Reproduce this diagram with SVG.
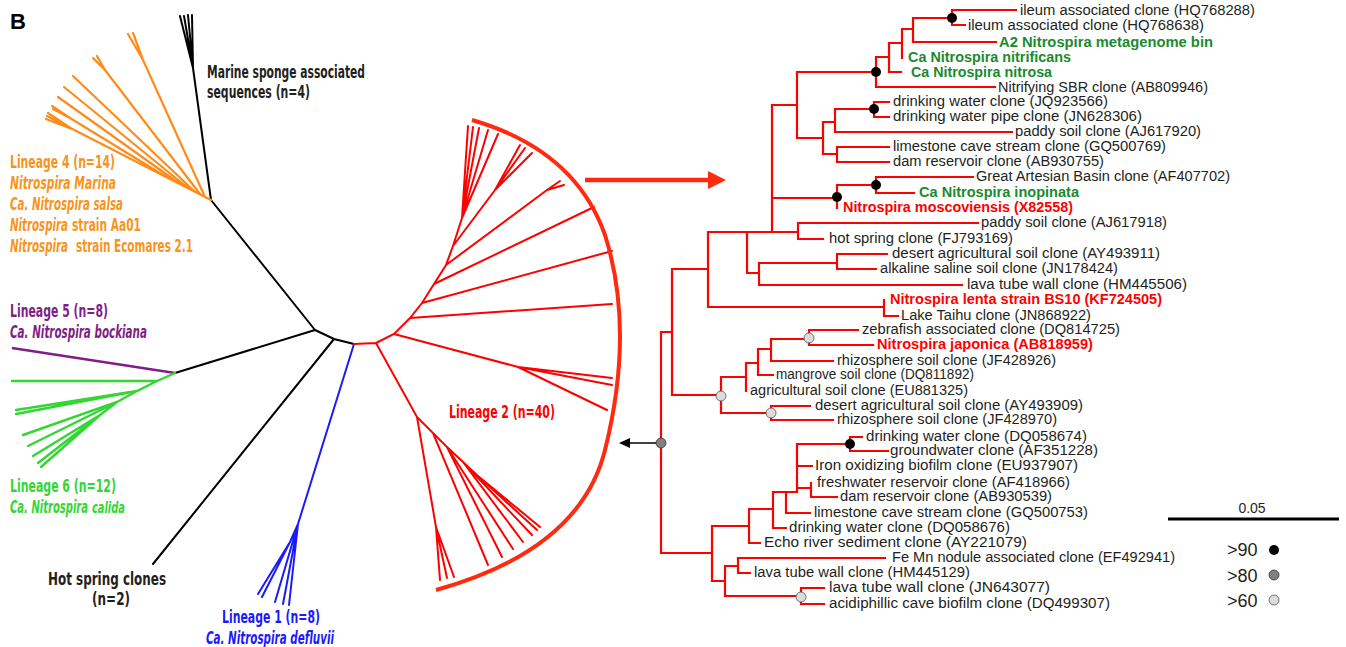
<svg xmlns="http://www.w3.org/2000/svg" width="1346" height="647" viewBox="0 0 1346 647">
<defs>
<style>
.t{font-family:"Liberation Sans",Arial,sans-serif;font-size:14px;fill:#231f20}
.g{fill:#1b8a2f;font-weight:bold}
.r{fill:#ff0000;font-weight:bold}
.L{font-family:"Liberation Sans Narrow","DejaVu Sans Condensed","Liberation Sans",sans-serif;font-size:17px;font-weight:bold}
.i{font-style:italic}
.br{stroke:#ff0000;stroke-width:2.2;fill:none;stroke-linecap:square}
.lk{stroke:#000;stroke-width:2;fill:none;stroke-linecap:round}
.lo{stroke:#ff8c1a;stroke-width:2.2;fill:none;stroke-linecap:round}
.lg{stroke:#33d633;stroke-width:2.4;fill:none;stroke-linecap:round}
.lp{stroke:#7f1f86;stroke-width:2.4;fill:none}
.lb{stroke:#1a1aff;stroke-width:2;fill:none;stroke-linecap:round}
.lr{stroke:#ff0000;stroke-width:2;fill:none;stroke-linecap:round}
.d9{fill:#000}
.d8{fill:#808080;stroke:#333;stroke-width:0.8}
.d6{fill:#dcdcdc;stroke:#555;stroke-width:0.8}
</style>
</defs>
<rect width="1346" height="647" fill="#fff"/>

<g id="connectors">
<path class="lk" d="M315,330 L211,200 M211,200 L193,68 M193,68 L180,16 M193,68 L184,16 M193,68 L188,15 M193,68 L192,15 M315,330 L175,373 M315,330 L334,339 L354,344 M334,339 L153,564"/>
<path class="lo" d="M211,200 L47,116 M205,197 L143,60 L128,34 M143,60 L133,33 M200,194 L105,70 L93,58 M105,70 L97,56 M194,191 L73,76 M188,188 L64,87 M180,184 L58,97 M168,178 L70,118 L52,106 M70,118 L53,109 M72,129 L46,119 M72,129 L48,113"/>
<path class="lp" d="M175,373 L12,348"/>
<path class="lg" d="M175,373 L157,381 L12,381 M157,381 L137,391 L16,410 M137,391 L16,414 M137,391 L117,402 L23,435 M117,402 L28,446 M117,402 L100,415 L33,456 M100,415 L38,463 M100,415 L41,467"/>
<path class="lb" d="M354,344 L298,524 M298,524 L290,542 L258,594 M290,542 L262,597 M298,524 L275,602 M298,524 L283,604 M298,524 L289,605"/>
<path class="lr" d="M354,344 L376,343 M376,343 L394,334 L410,318 L422,303 L434,284 L446,265 L453,246 L462,218 M394,334 L518,367 L612,378 M518,367 L612,385 M518,367 L607,410 M410,318 L612,304 M422,303 L612,251 M434,284 L594,207 M446,265 L547,190 L560,181 M547,190 L564,185 M453,246 L495,190 L520,145 M495,190 L525,148 M495,190 L532,153 M462,218 L468,126 M462,218 L473,127 M462,218 L479,128 M462,218 L488,130 M462,218 L498,134 M376,343 L417,417 L436,527 L440,580 M436,527 L447,578 M436,527 L454,577 M417,417 L433,433 L488,565 M433,433 L447,447 L502,557 M447,447 L513,549 M447,447 L463,462 L523,542 M463,462 L532,535 M463,462 L478,476 L537,530 M478,476 L540,527"/>
<path d="M472,120 Q575,150 605,235 Q635,330 605,450 Q580,550 436,590" fill="none" stroke="#ff2a10" stroke-width="4"/>
<path d="M585,180 H712" stroke="#ff2a10" stroke-width="4.5" fill="none"/>
<polygon points="708,171 726,180 708,189" fill="#ff2a10"/>
<path d="M661,443 H628" stroke="#000" stroke-width="1.6" fill="none"/>
<polygon points="619,443 630,438 630,448" fill="#000"/>
<path class="br" d="M661,332 V553 M661,332 H672 M672,269 V395 M672,269 H708 M708,232 V307 M708,232 H798 M747,232 V273 H759 M759,263 V285 M759,263 H837 M837,254 V269 M837,254 H887 M837,269 H876 M759,285 H962 M772,105 V232 M772,105 H797 M797,72 V138 M797,72 H876 M876,57 V87 M876,57 H889 M876,87 H995 M889,43 V72 M889,43 H902 M889,72 H901 M902,29 V58 M902,29 H913 M913,18 V42 M913,18 H952 M913,42 H996 M952,10 V25 M952,10 H1016 M952,25 H965 M797,138 H823 M823,122 V154 M823,122 H835 M835,109 V132 M835,109 H874 M874,102 V117 M874,102 H889 M874,117 H889 M835,132 H1012 M823,154 H837 M837,147 V162 M837,147 H889 M837,162 H889 M772,198 H837 M837,185 V208 M837,185 H876 M876,177 V193 M876,177 H973 M876,193 H914 M798,223 V239 M798,223 H978 M798,239 H823 M708,307 H884 M884,300 V316 M884,316 H898 M672,395 H721 M721,377 V413 M721,377 H746 M746,363 V391 M746,363 H758 M758,349 V375 M758,349 H771 M771,339 V361 M771,339 H809 M809,330 V345 M809,330 H858 M809,345 H873 M771,361 H833 M758,375 H773 M721,413 H771 M771,406 V420 M771,406 H810 M771,420 H833 M661,553 H712 M712,526 V581 M712,526 H749 M749,509 V543 M749,509 H773 M773,492 V528 M773,492 H797 M786,492 V513 M786,513 H810 M773,528 H786 M797,444 V492 M797,444 H850 M850,437 V451 M850,437 H862 M850,451 H888 M797,466 H812 M797,488 H811 M811,483 V497 M811,497 H837 M749,543 H760 M712,581 H725 M725,566 V596 M725,566 H738 M738,558 V573 M738,558 H885 M738,573 H750 M725,596 H801 M801,588 V604 M801,588 H824 M801,604 H824"/>
<circle class="d9" cx="952" cy="18" r="5"/>
<circle class="d9" cx="876" cy="72" r="5"/>
<circle class="d9" cx="874" cy="109" r="5"/>
<circle class="d9" cx="876" cy="185" r="5"/>
<circle class="d9" cx="837" cy="197" r="5"/>
<circle class="d9" cx="850" cy="444" r="5"/>
<circle class="d8" cx="661" cy="443" r="5"/>
<circle class="d6" cx="721" cy="396" r="5"/>
<circle class="d6" cx="809" cy="338" r="5"/>
<circle class="d6" cx="771" cy="413" r="5"/>
<circle class="d6" cx="801" cy="597" r="5"/>
</g>

<g id="panel-label"><text x="10" y="29" font-family="Liberation Sans,Arial,sans-serif" font-size="22" font-weight="bold" fill="#000">B</text></g>

<g id="sponge" class="L" fill="#231f20">
<text transform="translate(207,78) scale(0.72,1)" textLength="219.4" lengthAdjust="spacingAndGlyphs">Marine sponge associated</text>
<text transform="translate(207,98) scale(0.72,1)" textLength="143.1" lengthAdjust="spacingAndGlyphs">sequences (n=4)</text>
</g>
<g id="lineage4" class="L" fill="#f7941d">
<text transform="translate(10,168) scale(0.72,1)" textLength="145.8" lengthAdjust="spacingAndGlyphs">Lineage 4 (n=14)</text>
<text transform="translate(10,189) scale(0.72,1)" class="i" textLength="147.2" lengthAdjust="spacingAndGlyphs">Nitrospira Marina</text>
<text transform="translate(10,210) scale(0.72,1)" class="i" textLength="156.9" lengthAdjust="spacingAndGlyphs">Ca. Nitrospira salsa</text>
<text transform="translate(10,231) scale(0.72,1)" class="i" textLength="80.6" lengthAdjust="spacingAndGlyphs">Nitrospira</text>
<text transform="translate(72,231) scale(0.72,1)" textLength="95.8" lengthAdjust="spacingAndGlyphs">strain Aa01</text>
<text transform="translate(10,252) scale(0.72,1)" class="i" textLength="80.6" lengthAdjust="spacingAndGlyphs">Nitrospira</text>
<text transform="translate(76,252) scale(0.72,1)" textLength="162.5" lengthAdjust="spacingAndGlyphs">strain Ecomares 2.1</text>
</g>
<g id="lineage5" class="L" fill="#7f1f86">
<text transform="translate(10,317) scale(0.72,1)" textLength="136.1" lengthAdjust="spacingAndGlyphs">Lineage 5 (n=8)</text>
<text transform="translate(10,338) scale(0.72,1)" class="i" textLength="190.3" lengthAdjust="spacingAndGlyphs">Ca. Nitrospira bockiana</text>
</g>
<g id="lineage6" class="L" fill="#33d633">
<text transform="translate(10,492) scale(0.72,1)" textLength="147.2" lengthAdjust="spacingAndGlyphs">Lineage 6 (n=12)</text>
<text transform="translate(10,513) scale(0.66,1)" class="i" textLength="118.2" lengthAdjust="spacingAndGlyphs">Ca. Nitrospira</text>
<text transform="translate(92,513) scale(0.72,1)" class="i" font-size="15" textLength="45.8" lengthAdjust="spacingAndGlyphs">calida</text>
</g>
<g id="hotspring" class="L" fill="#231f20">
<text transform="translate(48,585) scale(0.72,1)" textLength="163.9" lengthAdjust="spacingAndGlyphs">Hot spring clones</text>
<text transform="translate(92,605) scale(0.72,1)" textLength="52.8" lengthAdjust="spacingAndGlyphs">(n=2)</text>
</g>
<g id="lineage1" class="L" fill="#1a1aff">
<text transform="translate(222,623) scale(0.72,1)" textLength="136.1" lengthAdjust="spacingAndGlyphs">Lineage 1 (n=8)</text>
<text transform="translate(206,644) scale(0.72,1)" class="i" textLength="177.8" lengthAdjust="spacingAndGlyphs">Ca. Nitrospira defluvii</text>
</g>
<g id="lineage2" class="L" fill="#ff0000">
<text transform="translate(449,418) scale(0.72,1)" textLength="147.2" lengthAdjust="spacingAndGlyphs">Lineage 2 (n=40)</text>
</g>

<g id="leaves" class="t">
<g id="n1"><text x="1020" y="15" textLength="235" lengthAdjust="spacingAndGlyphs">ileum associated clone (HQ768288)</text></g>
<g id="n2"><text x="968" y="30" textLength="236" lengthAdjust="spacingAndGlyphs">ileum associated clone (HQ768638)</text></g>
<g id="n3"><text class="g" x="999" y="47" textLength="214" lengthAdjust="spacingAndGlyphs">A2 Nitrospira metagenome bin</text></g>
<g id="n4"><text class="g" x="908" y="62" textLength="163" lengthAdjust="spacingAndGlyphs">Ca Nitrospira nitrificans</text></g>
<g id="n5"><text class="g" x="911" y="77" textLength="141" lengthAdjust="spacingAndGlyphs">Ca Nitrospira nitrosa</text></g>
<g id="n6"><text x="998" y="92" textLength="210" lengthAdjust="spacingAndGlyphs">Nitrifying SBR clone (AB809946)</text></g>
<g id="n7"><text x="893" y="106" textLength="215" lengthAdjust="spacingAndGlyphs">drinking water clone (JQ923566)</text></g>
<g id="n8"><text x="893" y="121" textLength="249" lengthAdjust="spacingAndGlyphs">drinking water pipe clone (JN628306)</text></g>
<g id="n9"><text x="1015" y="136" textLength="186" lengthAdjust="spacingAndGlyphs">paddy soil clone (AJ617920)</text></g>
<g id="n10"><text x="893" y="151" textLength="273" lengthAdjust="spacingAndGlyphs">limestone cave stream clone (GQ500769)</text></g>
<g id="n11"><text x="893" y="166" textLength="211" lengthAdjust="spacingAndGlyphs">dam reservoir clone (AB930755)</text></g>
<g id="n12"><text x="976" y="181" textLength="254" lengthAdjust="spacingAndGlyphs">Great Artesian Basin clone (AF407702)</text></g>
<g id="n13"><text class="g" x="919" y="197" textLength="160" lengthAdjust="spacingAndGlyphs">Ca Nitrospira inopinata</text></g>
<g id="n14"><text class="r" x="843" y="212" textLength="230" lengthAdjust="spacingAndGlyphs">Nitrospira moscoviensis (X82558)</text></g>
<g id="n15"><text x="981" y="227" textLength="186" lengthAdjust="spacingAndGlyphs">paddy soil clone (AJ617918)</text></g>
<g id="n16"><text x="829" y="243" textLength="184" lengthAdjust="spacingAndGlyphs">hot spring clone (FJ793169)</text></g>
<g id="n17"><text x="892" y="258" textLength="268" lengthAdjust="spacingAndGlyphs">desert agricultural soil clone (AY493911)</text></g>
<g id="n18"><text x="880" y="273" textLength="238" lengthAdjust="spacingAndGlyphs">alkaline saline soil clone (JN178424)</text></g>
<g id="n19"><text x="967" y="289" textLength="220" lengthAdjust="spacingAndGlyphs">lava tube wall clone (HM445506)</text></g>
<g id="n20"><text class="r" x="890" y="304" textLength="272" lengthAdjust="spacingAndGlyphs">Nitrospira lenta strain BS10 (KF724505)</text></g>
<g id="n21"><text x="901" y="320" textLength="190" lengthAdjust="spacingAndGlyphs">Lake Taihu clone (JN868922)</text></g>
<g id="n22"><text x="862" y="334" textLength="258" lengthAdjust="spacingAndGlyphs">zebrafish associated clone (DQ814725)</text></g>
<g id="n23"><text class="r" x="877" y="349" textLength="216" lengthAdjust="spacingAndGlyphs">Nitrospira japonica (AB818959)</text></g>
<g id="n24"><text x="837" y="365" textLength="219" lengthAdjust="spacingAndGlyphs">rhizosphere soil clone (JF428926)</text></g>
<g id="n25"><text x="776" y="379" textLength="198" lengthAdjust="spacingAndGlyphs">mangrove soil clone (DQ811892)</text></g>
<g id="n26"><text x="750" y="395" textLength="218" lengthAdjust="spacingAndGlyphs">agricultural soil clone (EU881325)</text></g>
<g id="n27"><text x="815" y="410" textLength="268" lengthAdjust="spacingAndGlyphs">desert agricultural soil clone (AY493909)</text></g>
<g id="n28"><text x="837" y="424" textLength="220" lengthAdjust="spacingAndGlyphs">rhizosphere soil clone (JF428970)</text></g>
<g id="n29"><text x="866" y="441" textLength="221" lengthAdjust="spacingAndGlyphs">drinking water clone (DQ058674)</text></g>
<g id="n30"><text x="890" y="455" textLength="208" lengthAdjust="spacingAndGlyphs">groundwater clone (AF351228)</text></g>
<g id="n31"><text x="815" y="470" textLength="263" lengthAdjust="spacingAndGlyphs">Iron oxidizing biofilm clone (EU937907)</text></g>
<g id="n32"><text x="817" y="487" textLength="253" lengthAdjust="spacingAndGlyphs">freshwater reservoir clone (AF418966)</text></g>
<g id="n33"><text x="840" y="501" textLength="212" lengthAdjust="spacingAndGlyphs">dam reservoir clone (AB930539)</text></g>
<g id="n34"><text x="814" y="517" textLength="274" lengthAdjust="spacingAndGlyphs">limestone cave stream clone (GQ500753)</text></g>
<g id="n35"><text x="789" y="532" textLength="221" lengthAdjust="spacingAndGlyphs">drinking water clone (DQ058676)</text></g>
<g id="n36"><text x="764" y="547" textLength="263" lengthAdjust="spacingAndGlyphs">Echo river sediment clone (AY221079)</text></g>
<g id="n37"><text x="892" y="562" textLength="283" lengthAdjust="spacingAndGlyphs">Fe Mn nodule associated clone (EF492941)</text></g>
<g id="n38"><text x="754" y="577" textLength="216" lengthAdjust="spacingAndGlyphs">lava tube wall clone (HM445129)</text></g>
<g id="n39"><text x="829" y="592" textLength="221" lengthAdjust="spacingAndGlyphs">lava tube wall clone (JN643077)</text></g>
<g id="n40"><text x="829" y="608" textLength="281" lengthAdjust="spacingAndGlyphs">acidiphillic cave biofilm clone (DQ499307)</text></g>
</g>

<g id="legend">
<text class="t" x="1252" y="513" font-size="16" text-anchor="middle">0.05</text>
<path d="M1168,519 H1339" stroke="#000" stroke-width="3"/>
<text class="t" x="1227" y="556" style="font-size:18px">&gt;90</text>
<circle class="d9" cx="1274" cy="550" r="5"/>
<text class="t" x="1227" y="582" style="font-size:18px">&gt;80</text>
<circle class="d8" cx="1274" cy="575" r="5"/>
<text class="t" x="1227" y="607" style="font-size:18px">&gt;60</text>
<circle class="d6" cx="1274" cy="600" r="5"/>
</g>
</svg>
